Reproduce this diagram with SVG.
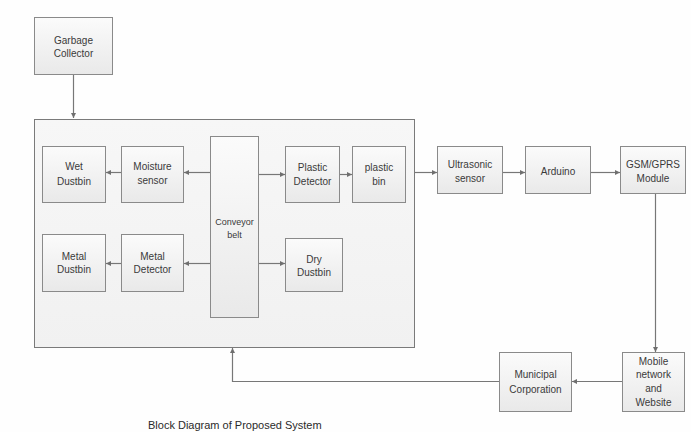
<svg xmlns="http://www.w3.org/2000/svg" width="691" height="432" viewBox="0 0 691 432">
<defs>
<linearGradient id="bg" x1="0" y1="0" x2="0" y2="1">
<stop offset="0" stop-color="#fbfbfb"/>
<stop offset="1" stop-color="#e9e9e9"/>
</linearGradient>
<linearGradient id="cg" x1="0" y1="0" x2="0" y2="1">
<stop offset="0" stop-color="#f7f7f7"/>
<stop offset="1" stop-color="#f1f1f1"/>
</linearGradient>
<marker id="ah" markerWidth="6" markerHeight="6" refX="5" refY="3" orient="auto" markerUnits="userSpaceOnUse">
<path d="M0,0.5 L5,3 L0,5.5 z" fill="#6f6f6f"/>
</marker>
<style>
.box{fill:url(#bg);stroke:#8a8a8a;stroke-width:1}
.cont{fill:url(#cg);stroke:#7a7a7a;stroke-width:1}
.t{font-family:"Liberation Sans",Arial,sans-serif;font-size:10px;fill:#3a3a3a;text-anchor:middle}
.s{font-size:9px}
.c{fill:none;stroke:#777;stroke-width:1.2;marker-end:url(#ah)}
.cap{font-family:"Liberation Sans",Arial,sans-serif;font-size:11px;fill:#2a2a2a}
</style>
</defs>
<rect width="691" height="432" fill="#fefefe"/>
<g id="garbage-collector"><rect class="box" x="34.5" y="17.5" width="78" height="57"/><text class="t" x="73.5" y="43.5">Garbage</text><text class="t" x="73.5" y="56.5">Collector</text></g>
<g id="system"><rect class="cont" x="34.5" y="119.5" width="380" height="228"/></g>
<g id="wet-dustbin"><rect class="box" x="42.5" y="146.5" width="63" height="56"/><text class="t" x="74" y="169.5">Wet</text><text class="t" x="74" y="184.5">Dustbin</text></g>
<g id="moisture-sensor"><rect class="box" x="121.5" y="146.5" width="62" height="56"/><text class="t" x="152.5" y="169.5">Moisture</text><text class="t" x="152.5" y="183.5">sensor</text></g>
<g id="conveyor-belt"><rect class="box" x="210.5" y="136.5" width="48" height="181"/><text class="t s" x="234.5" y="225">Conveyor</text><text class="t s" x="234.5" y="238">belt</text></g>
<g id="plastic-detector"><rect class="box" x="285.5" y="146.5" width="54" height="56"/><text class="t" x="312.5" y="170.5">Plastic</text><text class="t" x="312.5" y="184.5">Detector</text></g>
<g id="plastic-bin"><rect class="box" x="352.5" y="146.5" width="53" height="56"/><text class="t" x="379" y="170.5">plastic</text><text class="t" x="379" y="184.5">bin</text></g>
<g id="metal-dustbin"><rect class="box" x="42.5" y="234.5" width="63" height="57"/><text class="t" x="74" y="259.5">Metal</text><text class="t" x="74" y="272.5">Dustbin</text></g>
<g id="metal-detector"><rect class="box" x="121.5" y="234.5" width="62" height="57"/><text class="t" x="152.5" y="259.5">Metal</text><text class="t" x="152.5" y="272.5">Detector</text></g>
<g id="dry-dustbin"><rect class="box" x="285.5" y="238.5" width="57" height="53"/><text class="t" x="314" y="262.5">Dry</text><text class="t" x="314" y="275.5">Dustbin</text></g>
<g id="ultrasonic-sensor"><rect class="box" x="437.5" y="146.5" width="65" height="47"/><text class="t" x="470" y="167.5">Ultrasonic</text><text class="t" x="470" y="181.5">sensor</text></g>
<g id="arduino"><rect class="box" x="525.5" y="146.5" width="65" height="47"/><text class="t" x="558" y="174.5">Arduino</text></g>
<g id="gsm-gprs"><rect class="box" x="620.5" y="146.5" width="65" height="47"/><text class="t" x="653" y="167.5">GSM/GPRS</text><text class="t" x="653" y="181.5">Module</text></g>
<g id="mobile-network"><rect class="box" x="622.5" y="352.5" width="62" height="59"/><text class="t" x="653.5" y="364.5">Mobile</text><text class="t" x="653.5" y="378">network</text><text class="t" x="653.5" y="392">and</text><text class="t" x="653.5" y="405.5">Website</text></g>
<g id="municipal-corporation"><rect class="box" x="499.5" y="352.5" width="72" height="59"/><text class="t" x="535.5" y="377.5">Municipal</text><text class="t" x="535.5" y="392.5">Corporation</text></g>
<g id="connectors">
<path class="c" d="M73.5,75 V118"/>
<path class="c" d="M210,172.5 H184"/>
<path class="c" d="M121,172.5 H106"/>
<path class="c" d="M259,174.5 H285"/>
<path class="c" d="M340,174.5 H352"/>
<path class="c" d="M210,263.5 H184"/>
<path class="c" d="M121,263.5 H106"/>
<path class="c" d="M259,263.5 H285"/>
<path class="c" d="M415,172.5 H437"/>
<path class="c" d="M503,172.5 H525"/>
<path class="c" d="M591,172.5 H620"/>
<path class="c" d="M655.5,194 V352"/>
<path class="c" d="M622,381.5 H572"/>
<path class="c" d="M499,381.5 H232.5 V348"/>
</g>
<text class="cap" x="148" y="429">Block Diagram of Proposed System</text>
</svg>
